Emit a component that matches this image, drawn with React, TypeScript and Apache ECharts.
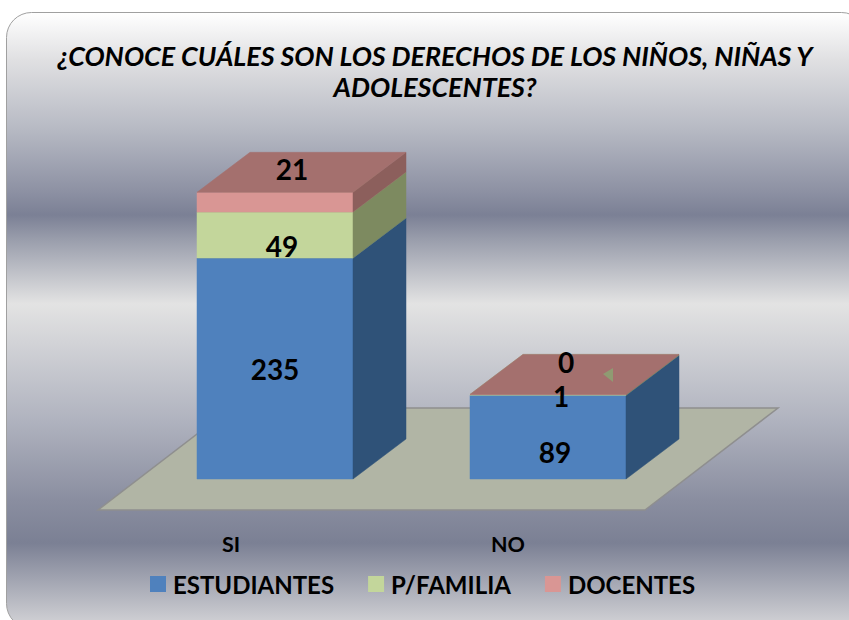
import React, { useEffect, useRef } from "react";
import * as echarts from "echarts";

const titleText = "¿CONOCE CUÁLES SON LOS DERECHOS DE LOS NIÑOS, NIÑAS Y\nADOLESCENTES?";
const categories = ["SI", "NO"];
const estudiantes = [235, 89];
const familia = [49, 1];
const docentes = [21, 0];

const seriesNames = ["ESTUDIANTES", "P/FAMILIA", "DOCENTES"];
const seriesValues = [estudiantes, familia, docentes];
const frontColors = ["#4f81bd", "#c3d69b", "#d99694"];
const sideColors = ["#2f5278", "#7d8a60", "#8c5f5c"];
const topColors = ["#3f6797", "#9cab7c", "#a4706e"];

// Style / layout constants
const FONT = "Lato, Carlito, sans-serif";
const DEPTH_X = 53;
const DEPTH_Y = -40;
const BAR_RATIO = 156 / 273;
const labelOffsets = [
  [[0, 0], [7, 15]],
  [[7, 11], [13, 1]],
  [[17, -33], [18, -32]],
];
const bgStops = [
  [12, "#ffffff"],
  [60, "#e0e0e2"],
  [130, "#b6b9c3"],
  [190, "#8e92a4"],
  [215, "#7b8095"],
  [240, "#9a9eac"],
  [304, "#e3e3e3"],
  [420, "#b0b3bf"],
  [500, "#8a8ea0"],
  [543, "#7b8094"],
  [628, "#d5d5d8"],
] as [number, string][];
const CARD = { x: 6.5, y: 12.5, width: 860, height: 616, r: 25 };

function stackedData(idx: number) {
  return categories.map((_, c) => {
    let lo = 0;
    for (let i = 0; i < idx; i++) lo += seriesValues[i][c];
    return [c, lo, lo + seriesValues[idx][c]];
  });
}

function makeRender(idx: number) {
  return (params: any, api: any) => {
    const c = api.value(0);
    const [cx, yLo] = api.coord([c, api.value(1)]);
    const [, yHi] = api.coord([c, api.value(2)]);
    const w = api.size([1, 0])[0] * BAR_RATIO;
    const l = cx - w / 2;
    const r = cx + w / 2;
    const poly = (points: number[][], fill: string) => ({
      type: "polygon",
      shape: { points },
      style: { fill, stroke: fill, lineWidth: 0.5 },
    });
    return {
      type: "group",
      children: [
        poly([[l, yLo], [r, yLo], [r, yHi], [l, yHi]], frontColors[idx]),
        poly([[r, yLo], [r + DEPTH_X, yLo + DEPTH_Y], [r + DEPTH_X, yHi + DEPTH_Y], [r, yHi]], sideColors[idx]),
        poly([[l, yHi], [r, yHi], [r + DEPTH_X, yHi + DEPTH_Y], [l + DEPTH_X, yHi + DEPTH_Y]], topColors[idx]),
      ],
    };
  };
}

function makeLabelRender() {
  return (params: any, api: any) => {
    const c = api.value(0);
    const idx = api.value(3);
    const [cx, yLo] = api.coord([c, api.value(1)]);
    const [, yHi] = api.coord([c, api.value(2)]);
    const off = labelOffsets[idx][c];
    return {
      type: "text",
      x: cx + off[0],
      y: (yLo + yHi) / 2 + off[1],
      style: {
        text: String(api.value(2) - api.value(1)),
        font: `bold 28px ${FONT}`,
        fill: "#000000",
        align: "center",
        verticalAlign: "middle",
      },
    };
  };
}

export default function App() {
  const ref = useRef<HTMLDivElement>(null);
  useEffect(() => {
    const chart = echarts.init(ref.current!, undefined, { renderer: "svg" });
    const option: any = {
      animation: false,
      backgroundColor: "#ffffff",
      title: {
        text: titleText,
        left: 430,
        top: 35,
        textAlign: "center",
        textStyle: {
          fontFamily: FONT,
          fontWeight: "bold",
          fontStyle: "italic",
          fontSize: 26.85,
          lineHeight: 31,
          color: "#000000",
        },
      },
      legend: {
        left: 150,
        top: 572,
        padding: 0,
        itemWidth: 16,
        itemHeight: 16,
        itemGap: 34,
        data: seriesNames.map((name) => ({ name, icon: "rect" })),
        textStyle: {
          fontFamily: FONT,
          fontWeight: "bold",
          fontSize: 24,
          color: "#000000",
          padding: [0, 0, 0, 2],
        },
      },
      grid: { left: 138.5, width: 546, top: 150, height: 329 },
      xAxis: {
        type: "category",
        data: [
          { value: categories[0], textStyle: { padding: [0, 88, 0, 0] } },
          { value: categories[1], textStyle: { padding: [0, 80, 0, 0] } },
        ],
        axisLine: { show: false },
        axisTick: { show: false },
        axisLabel: {
          margin: 54,
          fontFamily: FONT,
          fontWeight: "bold",
          fontSize: 21.5,
          color: "#000000",
        },
      },
      yAxis: { type: "value", min: 0, max: 350, show: false },
      graphic: [
        {
          type: "rect",
          z: -20,
          shape: { x: CARD.x, y: CARD.y, width: CARD.width, height: CARD.height, r: CARD.r },
          style: {
            fill: new echarts.graphic.LinearGradient(
              0,
              0,
              0,
              1,
              bgStops.map(([y, color]) => ({ offset: (y - CARD.y) / CARD.height, color }))
            ),
            stroke: "#a0a0a0",
            lineWidth: 1,
          },
        },
        {
          type: "polygon",
          z: -10,
          shape: { points: [[98, 510], [645, 510], [778, 408], [231, 408]] },
          style: { fill: "#b1b5a5", stroke: "#8f8f8f", lineWidth: 1.5 },
        },
        {
          type: "polygon",
          z: 20,
          shape: { points: [[603, 374], [613, 368], [613, 382]] },
          style: { fill: "#8f9b72" },
        },
      ],
      series: [
        ...seriesNames.map((name, i) => ({
          type: "custom",
          name,
          coordinateSystem: "cartesian2d",
          itemStyle: { color: frontColors[i] },
          encode: { x: 0, y: [1, 2] },
          data: stackedData(i),
          renderItem: makeRender(i),
          silent: true,
          z: 2 + i,
        })),
        {
          type: "custom",
          name: "labels",
          coordinateSystem: "cartesian2d",
          encode: { x: 0, y: [1, 2] },
          data: seriesNames.flatMap((_, i) => stackedData(i).map((d) => [...d, i])),
          renderItem: makeLabelRender(),
          silent: true,
          z: 10,
        },
      ],
    };
    chart.setOption(option);
    return () => chart.dispose();
  }, []);
  return (
    <div
      ref={ref}
      style={{ position: "absolute", left: 0, top: 0, width: 849, height: 620 }}
    />
  );
}
